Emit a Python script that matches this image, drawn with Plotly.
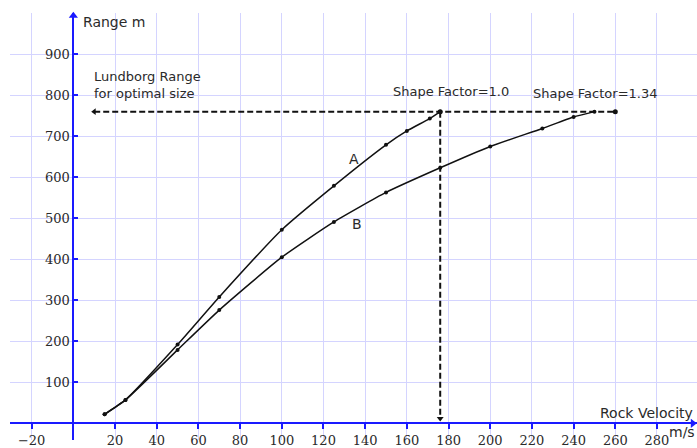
import plotly.graph_objects as go

# ---- data ----
a_velocity = [15, 25, 50, 70, 100, 125, 150, 160, 171, 176]
a_range = [22, 57, 192, 308, 472, 579, 679, 713, 743, 760]

b_velocity = [15, 25, 50, 70, 100, 125, 150, 176, 200, 225, 240, 250]
b_range = [22, 57, 179, 276, 405, 491, 563, 623, 675, 719, 747, 760]

lundborg_range = 760
ref_x_start = 10
ref_x_end = 260
shape1_velocity = 176
shape134_velocity = 250

x_ticks = [-20, 20, 40, 60, 80, 100, 120, 140, 160, 180, 200, 220, 240, 260, 280]
y_ticks = [100, 200, 300, 400, 500, 600, 700, 800, 900]

x_range = [-30.4, 299.2]
y_range = [-40.7, 1000.5]

AXIS_BLUE = "#1a1aff"
GRID = "rgb(212,212,255)"
TEXT = "#2a2a2a"
SERIF = "DejaVu Serif"

fig = go.Figure()

# curve A
fig.add_trace(go.Scatter(
    x=a_velocity, y=a_range, mode="lines+markers",
    line=dict(color="#111", width=1.5, shape="spline", smoothing=0.5),
    marker=dict(color="#111", size=4), showlegend=False))
# curve B
fig.add_trace(go.Scatter(
    x=b_velocity, y=b_range, mode="lines+markers",
    line=dict(color="#111", width=1.5, shape="spline", smoothing=0.5),
    marker=dict(color="#111", size=4), showlegend=False))

# horizontal dashed Lundborg line
fig.add_trace(go.Scatter(
    x=[ref_x_start, ref_x_end], y=[lundborg_range, lundborg_range], mode="lines",
    line=dict(color="#111", width=2, dash="6px,3px"), showlegend=False))
fig.add_trace(go.Scatter(
    x=[ref_x_end, shape1_velocity], y=[lundborg_range, lundborg_range], mode="markers",
    marker=dict(color="#111", size=5), showlegend=False))
fig.add_trace(go.Scatter(
    x=[ref_x_start], y=[lundborg_range], mode="markers",
    marker=dict(color="#111", size=6, symbol="triangle-left"), showlegend=False))

# vertical dashed line
fig.add_trace(go.Scatter(
    x=[shape1_velocity, shape1_velocity], y=[lundborg_range, 12], mode="lines",
    line=dict(color="#111", width=2, dash="6px,3px"), showlegend=False))
fig.add_trace(go.Scatter(
    x=[shape1_velocity], y=[12], mode="markers",
    marker=dict(color="#111", size=6, symbol="triangle-down"), showlegend=False))

# axis arrowheads
fig.add_trace(go.Scatter(
    x=[0], y=[y_range[1] - 7], mode="markers", cliponaxis=False,
    marker=dict(color=AXIS_BLUE, size=8, symbol="triangle-up"), showlegend=False))
fig.add_trace(go.Scatter(
    x=[x_range[1] - 2], y=[0], mode="markers", cliponaxis=False,
    marker=dict(color=AXIS_BLUE, size=8, symbol="triangle-right"), showlegend=False))

xpos = (0 - y_range[0]) / (y_range[1] - y_range[0])
ypos = (0 - x_range[0]) / (x_range[1] - x_range[0])

fig.update_layout(
    width=697, height=448,
    margin=dict(l=10, r=0, t=13, b=0),
    paper_bgcolor="white", plot_bgcolor="white",
    xaxis=dict(range=x_range, tickvals=x_ticks, showgrid=True, gridcolor=GRID, gridwidth=1,
               zeroline=False, showline=True, linecolor=AXIS_BLUE, linewidth=2,
               anchor="free", position=xpos, ticks="outside", ticklen=5,
               tickcolor=AXIS_BLUE, tickwidth=1.5,
               tickfont=dict(family=SERIF, size=13, color=TEXT)),
    yaxis=dict(range=y_range, tickvals=y_ticks, showgrid=True, gridcolor=GRID, gridwidth=1,
               zeroline=False, showline=True, linecolor=AXIS_BLUE, linewidth=2,
               anchor="free", position=ypos, ticks="inside", ticklen=4,
               tickcolor=AXIS_BLUE, tickwidth=1.5,
               tickfont=dict(family=SERIF, size=13, color=TEXT)),
)

sans = "DejaVu Sans"
ann = [
    dict(x=0, y=979, text="Range m", xanchor="left", xshift=8, font=dict(size=14)),
    dict(x=9, y=825, text="Lundborg Range<br>for optimal size", xanchor="left", align="left",
         font=dict(size=13)),
    dict(x=181.2, y=809, text="Shape Factor=1.0", font=dict(size=13)),
    dict(x=250.5, y=805, text="Shape Factor=1.34", font=dict(size=13)),
    dict(x=134.8, y=645, text="A", font=dict(size=14)),
    dict(x=136.3, y=487, text="B", font=dict(size=14)),
    dict(x=x_range[1], y=26, text="Rock Velocity", xanchor="right", xshift=-2, font=dict(size=14)),
    dict(x=x_range[1], y=-21, text="m/s", xanchor="right", xshift=0, font=dict(size=14)),
]
for a in ann:
    a.setdefault("xref", "x")
    a.setdefault("yref", "y")
    a["showarrow"] = False
    a["font"] = dict(family=sans, color=TEXT, **a["font"])
    fig.add_annotation(**a)

fig.write_html("out.html")
